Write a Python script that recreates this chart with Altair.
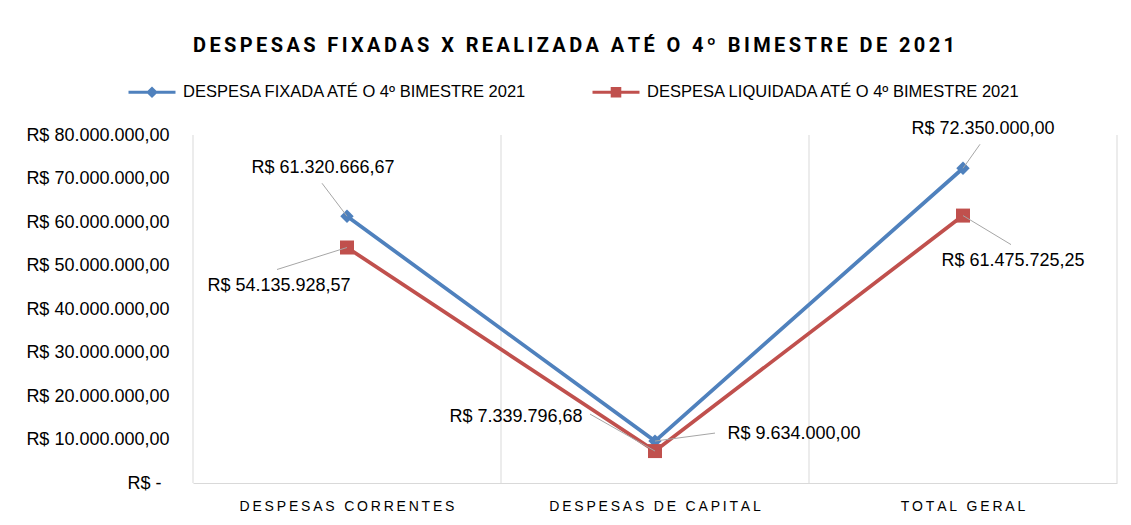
import altair as alt
import pandas as pd

TITLE = "DESPESAS FIXADAS X REALIZADA ATÉ O 4º BIMESTRE DE 2021"
CATEGORIES = ["DESPESAS CORRENTES", "DESPESAS DE CAPITAL", "TOTAL GERAL"]
SERIES = ["DESPESA FIXADA ATÉ O 4º BIMESTRE 2021",
          "DESPESA LIQUIDADA ATÉ O 4º BIMESTRE 2021"]
FIXADA = [61320666.67, 9634000.00, 72350000.00]
LIQUIDADA = [54135928.57, 7339796.68, 61475725.25]
Y_TICKS = [0, 10000000, 20000000, 30000000, 40000000,
           50000000, 60000000, 70000000, 80000000]

COLORS = ["#4F81BD", "#C0504D"]
GRID = "#d9d9d9"
LEADER = "#a6a6a6"
FONT = "Liberation Sans"

rows = []
for s, vals in zip(SERIES, [FIXADA, LIQUIDADA]):
    for c, v in zip(CATEGORIES, vals):
        rows.append({"cat": c, "series": s, "value": v})
df = pd.DataFrame(rows)
df_cat = pd.DataFrame({"cat": CATEGORIES})
df_one = pd.DataFrame({"k": [0]})

# label placement styles: (series idx, category idx) -> (text dx, dy, leader dx, leader dy)
LABEL_STYLE = {
    (0, 0): (-24, -48, -25, -33),
    (1, 0): (-68, 38, -70, 22),
    (0, 1): (139, -7, 60, -8),
    (1, 1): (-139, -34, -65, -37),
    (0, 2): (20, -39, 17, -24),
    (1, 2): (50, 45, 48, 29),
}

FMT = ("'R$ ' + replace(replace(replace(format(datum.value, ',.2f'), "
       "regexp(',', 'g'), '_'), regexp('[.]', 'g'), ','), regexp('_', 'g'), '.')")
Y_LABEL = ("datum.value == 0 ? 'R$ -' : 'R$ ' + replace(replace(replace("
           "format(datum.value, ',.2f'), regexp(',', 'g'), '_'), regexp('[.]', 'g'), ','), "
           "regexp('_', 'g'), '.')")

xscale = alt.Scale(type="band", domain=CATEGORIES, paddingInner=0, paddingOuter=0)
xaxis = alt.Axis(title=None, labelExpr="join(split(datum.label, ''), '\u2009')",
                 labelFont=FONT, labelFontSize=14, labelColor="#000",
                 labelPadding=16, ticks=False, domainColor=GRID, domainWidth=1,
                 grid=False, labelAngle=0, labelLimit=500)
yscale = alt.Scale(domain=[0, 80000000], nice=False, zero=True)
yaxis = alt.Axis(title=None, values=Y_TICKS, labelExpr=Y_LABEL, grid=False,
                 ticks=False, domain=False,
                 labelPadding={"condition": {"test": "datum.value == 0", "value": 32},
                               "value": 24},
                 labelFont=FONT, labelFontSize=18, labelColor="#000", labelLimit=400)


def X(bp=0.5):
    return alt.X("cat:N", scale=xscale, axis=xaxis, sort=CATEGORIES, bandPosition=bp)


def Y():
    return alt.Y("value:Q", scale=yscale, axis=yaxis)


cscale = alt.Scale(domain=SERIES, range=COLORS)

# legend symbols: line with diamond / line with square (unit coordinates)
LEGEND_PATHS = [
    "M-2,-0.13H2V0.13H-2Z M0,-0.5L0.5,0L0,0.5L-0.5,0Z",
    "M-2,-0.13H2V0.13H-2Z M-0.45,-0.45H0.45V0.45H-0.45Z",
]
LEG = alt.Legend(title=None, orient="none", legendX=-53, legendY=-55,
                 direction="horizontal", labelFont=FONT, labelFontSize=16.5,
                 labelColor="#000", symbolSize=552, symbolStrokeWidth=0,
                 labelOffset=19, columnPadding=63, labelLimit=600,
                 symbolOpacity=1)

grid = alt.Chart(df_cat).mark_rule(color=GRID, strokeWidth=1).encode(x=X(0))
right = alt.Chart(df_one).mark_rule(color=GRID, strokeWidth=1).encode(x=alt.value("width"))

lines = alt.Chart(df).mark_line(strokeWidth=3.75).encode(
    x=X(), y=Y(),
    color=alt.Color("series:N", scale=cscale, legend=LEG),
    shape=alt.Shape("series:N", scale=alt.Scale(domain=SERIES, range=LEGEND_PATHS), legend=LEG))

pts_b = alt.Chart(df).transform_filter(alt.datum.series == SERIES[0]).mark_point(
    shape="diamond", filled=True, size=180, color=COLORS[0], opacity=1).encode(x=X(), y=Y())
pts_r = alt.Chart(df).transform_filter(alt.datum.series == SERIES[1]).mark_point(
    shape="square", filled=True, size=196, color=COLORS[1], opacity=1).encode(x=X(), y=Y())

label_layers = []
leader_layers = []
for (si, ci), (tdx, tdy, ldx, ldy) in LABEL_STYLE.items():
    sub = alt.Chart(df).transform_filter(
        (alt.datum.series == SERIES[si]) & (alt.datum.cat == CATEGORIES[ci])
    ).transform_calculate(label=FMT)
    leader_layers.append(
        sub.mark_rule(color=LEADER, strokeWidth=1, x2Offset=ldx, y2Offset=ldy).encode(
            x=X(), y=Y(),
            x2=alt.X2("cat", bandPosition=0.5), y2=alt.Y2("value")))
    label_layers.append(
        sub.mark_text(dx=tdx, dy=tdy, align="center", baseline="middle",
                      font=FONT, fontSize=18, color="#000").encode(
            x=X(), y=Y(), text="label:N"))

chart = alt.layer(grid, right, lines, pts_b, pts_r, *leader_layers, *label_layers).properties(
    width=924, height=348,
    title=alt.TitleParams(text="\u2006".join(TITLE), font="Roboto", fontSize=20,
                          fontWeight="bold", color="#000", anchor="middle",
                          frame="group", dx=-81, offset=24),
    padding={"left": 185, "top": 127, "right": 4, "bottom": 34},
    autosize=alt.AutoSizeParams(type="none"),
).configure_view(stroke=None)

chart.save("out.html", embed_options={"renderer": "svg", "actions": False})
